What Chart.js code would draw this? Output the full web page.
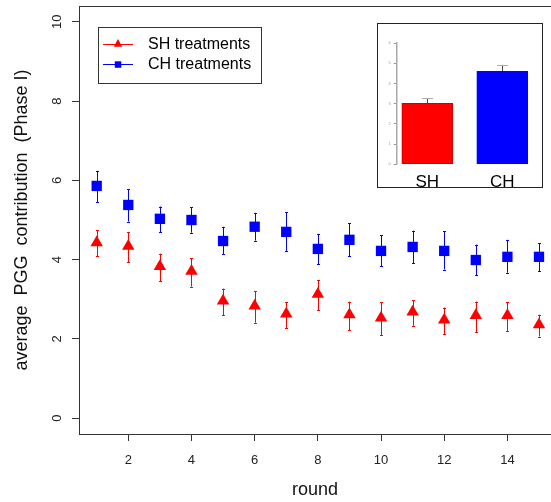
<!DOCTYPE html>
<html>
<head>
<meta charset="utf-8">
<script src="https://cdn.jsdelivr.net/npm/chart.js@4/dist/chart.umd.min.js"></script>
<style>
  html, body { margin: 0; padding: 0; background: #fff; overflow: hidden; }
  #wrap { position: relative; width: 551px; height: 502px; }
  #inset { position: absolute; left: 377px; top: 23px; width: 164px; height: 163px;
           border: 1px solid #222; background: #fff; }
  canvas { display: block; }
</style>
</head>
<body>
<div id="wrap">
  <canvas id="main" width="551" height="502"></canvas>
  <div id="inset"><canvas id="bars" width="164" height="163"></canvas></div>
</div>
<script>
// rounds 1..15
const rounds = [1, 2, 3, 4, 5, 6, 7, 8, 9, 10, 11, 12, 13, 14, 15];
const xTicks = [2, 4, 6, 8, 10, 12, 14];
const yTicks = [0, 2, 4, 6, 8, 10];

// SH treatments (red triangles)
const shMean = [4.43, 4.34, 3.83, 3.71, 2.96, 2.83, 2.63, 3.13, 2.61, 2.53, 2.68, 2.48, 2.59, 2.59, 2.36];
const shLow  = [4.08, 3.93, 3.45, 3.32, 2.60, 2.41, 2.28, 2.72, 2.22, 2.09, 2.33, 2.12, 2.17, 2.20, 2.06];
const shHigh = [4.74, 4.69, 4.15, 4.04, 3.27, 3.21, 2.92, 3.49, 2.94, 2.92, 2.97, 2.79, 2.94, 2.92, 2.61];

// CH treatments (blue squares)
const chMean = [5.86, 5.38, 5.03, 5.00, 4.47, 4.83, 4.70, 4.27, 4.50, 4.22, 4.32, 4.22, 3.99, 4.07, 4.07];
const chLow  = [5.45, 4.96, 4.69, 4.68, 4.13, 4.48, 4.22, 3.88, 4.08, 3.83, 3.91, 3.75, 3.61, 3.67, 3.71];
const chHigh = [6.24, 5.78, 5.34, 5.32, 4.83, 5.18, 5.19, 4.65, 4.92, 4.62, 4.73, 4.71, 4.38, 4.50, 4.41];

// inset bar chart
const insetCats = ['SH', 'CH'];
const insetMean = [3.01, 4.60];
const insetLow  = [2.76, 4.29];
const insetHigh = [3.27, 4.92];
const insetTicks = [0, 1, 2, 3, 4, 5, 6];

const RED = '#ff0000';
const BLUE = '#0000ff';
const FONT = 'Liberation Sans, Arial, Helvetica, sans-serif';

function noPad(s) {
    s.paddingLeft = 0; s.paddingRight = 0; s.paddingTop = 0; s.paddingBottom = 0;
}

function errorBarPlugin(capHalf, colorFn) {
    return {
        id: 'errbars',
        beforeDatasetsDraw(chart) {
            const ctx = chart.ctx;
            const xs = chart.scales.x, ys = chart.scales.y;
            chart.data.datasets.forEach((ds, i) => {
                ctx.save();
                ctx.lineWidth = 1;
                ds.data.forEach((p, j) => {
                    const x = Math.round(xs.getPixelForValue(p.x)) + 0.5;
                    const yl = ys.getPixelForValue(ds.low[j]);
                    const yh = ys.getPixelForValue(ds.high[j]);
                    ctx.strokeStyle = colorFn(ds, 'line');
                    ctx.beginPath();
                    ctx.moveTo(x, yl); ctx.lineTo(x, yh);
                    ctx.stroke();
                    ctx.strokeStyle = colorFn(ds, 'cap');
                    ctx.beginPath();
                    ctx.moveTo(x - capHalf, Math.round(yl) + 0.5); ctx.lineTo(x + capHalf, Math.round(yl) + 0.5);
                    ctx.moveTo(x - capHalf, Math.round(yh) + 0.5); ctx.lineTo(x + capHalf, Math.round(yh) + 0.5);
                    ctx.stroke();
                });
                ctx.restore();
            });
        }
    };
}

// legend + top frame line
const legendPlugin = {
    id: 'rlegend',
    afterDraw(chart) {
        const ctx = chart.ctx;
        const a = chart.chartArea;
        ctx.save();
        ctx.strokeStyle = '#333';
        ctx.lineWidth = 1;
        ctx.beginPath();
        ctx.moveTo(a.left, Math.round(a.top) + 0.5);
        ctx.lineTo(chart.width, Math.round(a.top) + 0.5);
        ctx.stroke();

        ctx.strokeRect(98.5, 27.5, 163, 56);
        const rows = [
            { label: 'SH treatments', color: RED, shape: 'tri', y: 44 },
            { label: 'CH treatments', color: BLUE, shape: 'sq', y: 64 }
        ];
        ctx.font = '16px ' + FONT;
        ctx.textBaseline = 'middle';
        rows.forEach(r => {
            ctx.strokeStyle = r.color;
            ctx.fillStyle = r.color;
            ctx.beginPath();
            ctx.moveTo(103, r.y + 0.5); ctx.lineTo(133, r.y + 0.5);
            ctx.stroke();
            ctx.beginPath();
            if (r.shape === 'tri') {
                ctx.moveTo(118, r.y - 5);
                ctx.lineTo(122.2, r.y + 2.8);
                ctx.lineTo(113.8, r.y + 2.8);
                ctx.closePath();
            } else {
                ctx.rect(114.8, r.y - 2.7, 6.5, 6.5);
            }
            ctx.fill();
            ctx.fillStyle = '#000';
            ctx.fillText(r.label, 148, r.y + 1);
        });
        ctx.restore();
    }
};

new Chart(document.getElementById('main').getContext('2d'), {
    type: 'scatter',
    data: {
        datasets: [
            {
                label: 'SH treatments',
                data: rounds.map((r, i) => ({ x: r, y: shMean[i] })),
                low: shLow, high: shHigh,
                pointStyle: 'triangle', pointRadius: 7.2, pointHoverRadius: 7.2,
                backgroundColor: RED, borderColor: RED, borderWidth: 0
            },
            {
                label: 'CH treatments',
                data: rounds.map((r, i) => ({ x: r, y: chMean[i] })),
                low: chLow, high: chHigh,
                pointStyle: 'rect', pointRadius: 7.3, pointHoverRadius: 7.3,
                backgroundColor: BLUE, borderColor: BLUE, borderWidth: 0
            }
        ]
    },
    options: {
        responsive: false,
        animation: false,
        devicePixelRatio: 1,
        layout: { autoPadding: false, padding: { left: 0, top: 6, right: 0, bottom: 0 } },
        plugins: { legend: { display: false }, tooltip: { enabled: false } },
        scales: {
            x: {
                type: 'linear',
                min: 0.44, max: 15.38,
                afterBuildTicks: s => { s.ticks = xTicks.map(v => ({ value: v })); },
                afterFit: s => { s.height = 68; noPad(s); },
                grid: { display: true, drawOnChartArea: false, drawTicks: true, tickLength: 7, color: '#333' },
                border: { display: true, color: '#333' },
                ticks: { color: '#222', font: { family: FONT, size: 13 }, padding: 12, maxRotation: 0, autoSkip: false },
                title: { display: true, text: 'round', color: '#111', font: { family: FONT, size: 18 }, padding: { top: 0, bottom: 1 } }
            },
            y: {
                min: -0.4, max: 10.4,
                afterBuildTicks: s => { s.ticks = yTicks.map(v => ({ value: v })); },
                afterFit: s => { s.width = 79; noPad(s); },
                grid: { display: true, drawOnChartArea: false, drawTicks: true, tickLength: 7, color: '#333' },
                border: { display: true, color: '#333' },
                ticks: { color: '#222', font: { family: FONT, size: 13 }, padding: 7, minRotation: 90, maxRotation: 90, crossAlign: 'center' },
                title: { display: true, text: 'average  PGG  contribution  (Phase I)', color: '#111', font: { family: FONT, size: 18 }, padding: { top: 11, bottom: 0 } }
            }
        }
    },
    plugins: [errorBarPlugin(1.5, ds => ds.borderColor), legendPlugin]
});

// inset: overall means
new Chart(document.getElementById('bars').getContext('2d'), {
    type: 'bar',
    data: {
        datasets: [{
            data: insetCats.map((c, i) => ({ x: i + 1, y: insetMean[i] })),
            low: insetLow, high: insetHigh,
            backgroundColor: [RED, BLUE],
            borderColor: ['#cc0000', BLUE],
            borderWidth: 1,
            borderSkipped: false,
            barThickness: 51
        }]
    },
    options: {
        responsive: false,
        animation: false,
        devicePixelRatio: 1,
        layout: { autoPadding: false, padding: { left: 0, top: 19, right: 4, bottom: 0 } },
        plugins: { legend: { display: false }, tooltip: { enabled: false } },
        scales: {
            x: {
                type: 'linear',
                min: 0.592, max: 2.476,
                offset: false,
                afterBuildTicks: s => { s.ticks = [1, 2].map(v => ({ value: v })); },
                afterFit: s => { s.height = 22.7; noPad(s); },
                grid: { display: false },
                border: { display: false },
                ticks: { color: '#000', font: { family: FONT, size: 17 }, padding: 0,
                         callback: v => insetCats[v - 1] }
            },
            y: {
                min: 0, max: 6,
                afterBuildTicks: s => { s.ticks = insetTicks.map(v => ({ value: v })); },
                afterFit: s => { s.width = 18.7; noPad(s); },
                grid: { display: true, drawOnChartArea: false, drawTicks: true, tickLength: 3, color: '#999' },
                border: { display: true, color: '#aaa', width: 1.5 },
                ticks: { color: '#999', font: { family: FONT, size: 4 }, padding: 3 }
            }
        }
    },
    plugins: [errorBarPlugin(5.5, (ds, part) => part === 'cap' ? '#aaa' : '#444')]
});
</script>
</body>
</html>
